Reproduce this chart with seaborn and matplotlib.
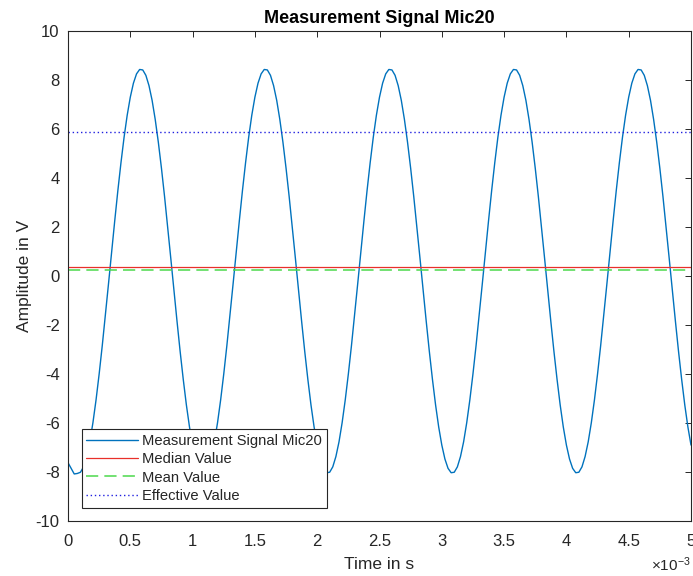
import numpy as np
import matplotlib
matplotlib.use('Agg')
import matplotlib.pyplot as plt
import seaborn as sns

# signal, one value every 0.025 ms (0 .. 5 ms)
signal_v = [
    -7.62, -7.85, -8.08, -8.06, -8.01, -7.79, -7.37, -6.77, -5.99, -5.06,
    -4.00, -2.84, -1.60, -0.32, 0.98, 2.25, 3.48, 4.62, 5.66, 6.56,
    7.30, 7.87, 8.25, 8.43, 8.41, 8.19, 7.77, 7.17, 6.39, 5.46,
    4.40, 3.24, 2.00, 0.72, -0.58, -1.85, -3.08, -4.22, -5.26, -6.16,
    -6.90, -7.47, -7.85, -8.03, -8.01, -7.79, -7.37, -6.77, -5.99, -5.06,
    -4.00, -2.84, -1.60, -0.32, 0.98, 2.25, 3.48, 4.62, 5.66, 6.56,
    7.30, 7.87, 8.25, 8.43, 8.41, 8.19, 7.77, 7.17, 6.39, 5.46,
    4.40, 3.24, 2.00, 0.72, -0.58, -1.85, -3.08, -4.22, -5.26, -6.16,
    -6.90, -7.47, -7.85, -8.03, -8.01, -7.79, -7.37, -6.77, -5.99, -5.06,
    -4.00, -2.84, -1.60, -0.32, 0.98, 2.25, 3.48, 4.62, 5.66, 6.56,
    7.30, 7.87, 8.25, 8.43, 8.41, 8.19, 7.77, 7.17, 6.39, 5.46,
    4.40, 3.24, 2.00, 0.72, -0.58, -1.85, -3.08, -4.22, -5.26, -6.16,
    -6.90, -7.47, -7.85, -8.03, -8.01, -7.79, -7.37, -6.77, -5.99, -5.06,
    -4.00, -2.84, -1.60, -0.32, 0.98, 2.25, 3.48, 4.62, 5.66, 6.56,
    7.30, 7.87, 8.25, 8.43, 8.41, 8.19, 7.77, 7.17, 6.39, 5.46,
    4.40, 3.24, 2.00, 0.72, -0.58, -1.85, -3.08, -4.22, -5.26, -6.16,
    -6.90, -7.47, -7.85, -8.03, -8.01, -7.79, -7.37, -6.77, -5.99, -5.06,
    -4.00, -2.84, -1.60, -0.32, 0.98, 2.25, 3.48, 4.62, 5.66, 6.56,
    7.30, 7.87, 8.25, 8.43, 8.41, 8.19, 7.77, 7.17, 6.39, 5.46,
    4.40, 3.24, 2.00, 0.72, -0.58, -1.85, -3.08, -4.22, -5.26, -6.16,
    -6.90,
]
time_s = np.arange(len(signal_v)) * 0.025e-3

median_v = 0.37
mean_v = 0.25
effective_v = 5.88

x_ticks = [0, 0.5e-3, 1e-3, 1.5e-3, 2e-3, 2.5e-3, 3e-3, 3.5e-3, 4e-3, 4.5e-3, 5e-3]
x_tick_labels = ['0', '0.5', '1', '1.5', '2', '2.5', '3', '3.5', '4', '4.5', '5']
y_ticks = list(range(-10, 11, 2))

sns.set_style('white')
plt.rcParams['font.family'] = ['Liberation Sans', 'DejaVu Sans']
plt.rcParams['axes.unicode_minus'] = False
plt.rcParams['mathtext.fontset'] = 'custom'
plt.rcParams['mathtext.rm'] = 'Liberation Sans'
plt.rcParams['mathtext.it'] = 'Liberation Sans'

dark = (0.15, 0.15, 0.15)

fig = plt.figure(figsize=(6.93, 5.76), dpi=100)
ax = fig.add_axes([68 / 693, 1 - 521 / 576, 623 / 693, 490 / 576])

sns.lineplot(x=time_s, y=signal_v, ax=ax, color='#0072BD', linewidth=1.0,
             label='Measurement Signal Mic20')
ax.axhline(median_v, color='#E8302A', linewidth=0.9, label='Median Value')
ax.axhline(mean_v, color='#4CD84C', linewidth=1.1, linestyle=(0, (8, 4)),
           label='Mean Value')
ax.axhline(effective_v, color='#2020E0', linewidth=1.0, linestyle=(0, (1, 2)),
           label='Effective Value')

ax.set_xlim(0, 5e-3)
ax.set_ylim(-10, 10)
ax.set_xticks(x_ticks)
ax.set_xticklabels(x_tick_labels)
ax.set_yticks(y_ticks)

ax.tick_params(direction='in', length=4, width=0.7, colors=dark,
               labelsize=12, top=True, right=True, labeltop=False,
               labelright=False)
ax.tick_params(axis='x', pad=9)
ax.tick_params(axis='y', pad=6)
for sp in ax.spines.values():
    sp.set_visible(True)
    sp.set_color(dark)
    sp.set_linewidth(0.8)

ax.set_title('Measurement Signal Mic20', fontsize=13, fontweight='bold',
             color='black', pad=5.5)
ax.set_xlabel('Time in s', fontsize=12.5, color=dark, labelpad=6)
ax.set_ylabel('Amplitude in V', fontsize=12.5, color=dark, labelpad=3)
fig.text(691 / 693, 1 - 565 / 576, r'$\times10^{-3}$', ha='right', va='center',
         fontsize=11, color=dark)

leg = ax.legend(loc='lower left', bbox_to_anchor=(0.022, 0.027), fontsize=10.6,
                frameon=True, fancybox=False, framealpha=1, edgecolor=dark,
                handlelength=3.5, borderpad=0.32, labelspacing=0.3,
                handletextpad=0.3, borderaxespad=0)
leg.get_frame().set_linewidth(0.8)

fig.savefig('out.png', dpi=100)
